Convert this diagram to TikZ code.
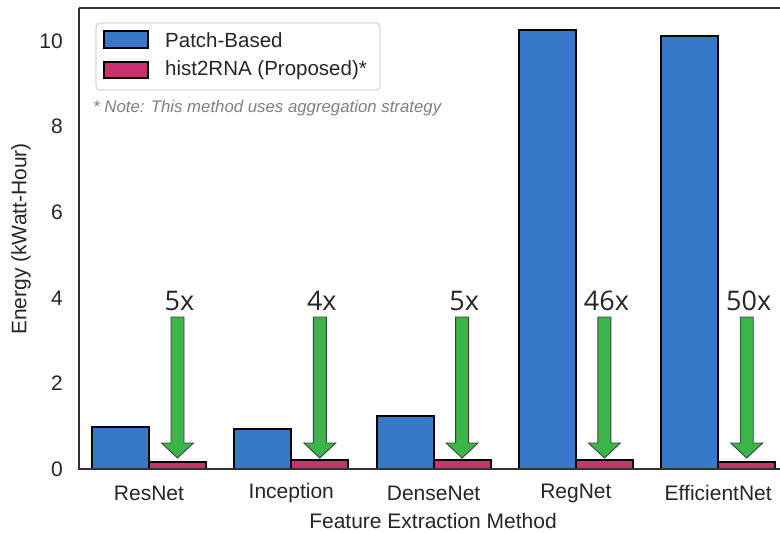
\documentclass[tikz,border=0pt]{standalone}
\usepackage{fontspec}
\setmainfont{Liberation Sans}
\newfontfamily\ratiofont{Open Sans}
\definecolor{patchblue}{HTML}{3778C8}
\definecolor{histpink}{HTML}{C8336E}
\definecolor{gainarrow}{HTML}{3BB44A}
\definecolor{spinegray}{HTML}{333333}
\definecolor{ticktext}{HTML}{262626}
\tikzset{
  bar/.style={draw=black, line width=1.8pt},
  patchbar/.style={bar, fill=patchblue},
  histbar/.style={bar, fill=histpink},
  gain/.style={draw=black!75, line width=0.9pt, fill=gainarrow},
  spine/.style={draw=spinegray, line width=1.6pt},
  ticklab/.style={font=\fontsize{21}{25}\selectfont, text=ticktext, inner sep=0pt},
  ratiolab/.style={font=\ratiofont\fontsize{27}{30}\selectfont, text=ticktext, inner sep=0pt, anchor=base},
  legtext/.style={font=\fontsize{20.5}{24}\selectfont, text=ticktext, inner sep=0pt, anchor=west},
}
\begin{document}
\begin{tikzpicture}[x=1pt,y=-1pt]
\useasboundingbox[fill=white] (0,0) rectangle (780,533);

% bars: y(v) = 469 - 42.8 v; groups 142.3 apart, bars 57 wide
\foreach \i/\name/\pb/\hb/\ratio in {0/ResNet/427/462/5x, 1/Inception/429/460/4x, 2/DenseNet/416/460/5x, 3/RegNet/30/460/46x, 4/EfficientNet/36/462/50x}{
  \pgfmathsetmacro{\c}{149+142.3*\i}
  \pgfmathsetmacro{\a}{\c+28.5}
  \draw[patchbar] (\c-57,469) rectangle (\c,\pb);
  \draw[histbar] (\c,469) rectangle (\c+57,\hb);
  % reduction arrow
  \draw[gain] (\a-6.5,317) -- (\a+6.5,317) -- (\a+6.5,443) -- (\a+16,443)
     -- (\a,458) -- (\a-16,443) -- (\a-6.5,443) -- cycle;
  \node[ratiolab] (ratio\i) at (\a+2,310) {\ratio};
  \node[ticklab] (xtick\i) at (\c,493) {\name};
}

% axes spines
\draw[spine] (79,8) -- (780,8);
\draw[spine] (79,8) -- (79,469) -- (780,469);

% y tick labels
\foreach \v in {0,2,4,6,8,10}{
  \node[ticklab, anchor=east] (ytick\v) at (63,469-42.8*\v) {\v};
}

% axis titles
\node[ticklab] (xtitle) at (433,521) {Feature Extraction Method};
\node[ticklab, rotate=90] (ytitle) at (21,239) {Energy (kWatt-Hour)};

% legend
\draw[draw=black!15, line width=1.2pt, rounded corners=4pt, fill=white] (96,23) rectangle (380,90);
\draw[patchbar, line width=1.5pt] (104,31) rectangle (148,48);
\draw[histbar, line width=1.5pt] (104,62) rectangle (148,78);
\node[legtext] (leg1) at (165,40) {Patch-Based};
\node[legtext] (leg2) at (165,70) {hist2RNA (Proposed)*};
\node[inner sep=0pt, anchor=west, text=black!50, font=\itshape\fontsize{16.8}{20}\selectfont] (note) at (93,108) {* Note: This method uses aggregation strategy};
\end{tikzpicture}
\end{document}
